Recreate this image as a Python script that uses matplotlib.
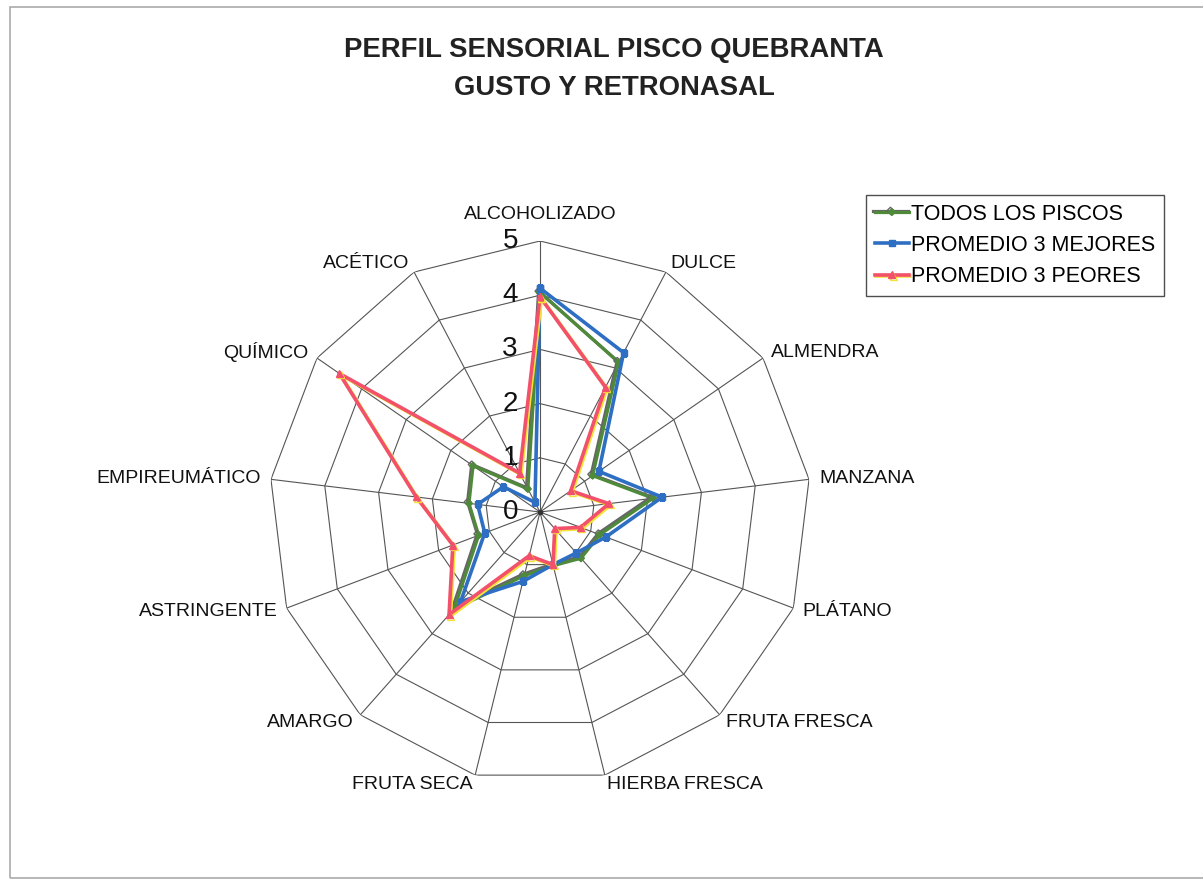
import numpy as np
import matplotlib
matplotlib.use("Agg")
import matplotlib.pyplot as plt
import matplotlib.patheffects as pe
from matplotlib.patches import Rectangle

plt.rcParams['font.family'] = ['Liberation Sans', 'DejaVu Sans']

categories = ["ALCOHOLIZADO", "DULCE", "ALMENDRA", "MANZANA", "PLÁTANO",
              "FRUTA FRESCA", "HIERBA FRESCA", "FRUTA SECA", "AMARGO",
              "ASTRINGENTE", "EMPIREUMÁTICO", "QUÍMICO", "ACÉTICO"]
todos = [4.05, 3.12, 1.18, 2.10, 1.18, 1.14, 1.02, 1.21, 2.39, 1.21, 1.32, 1.50, 0.48]
mejores = [4.13, 3.32, 1.32, 2.27, 1.30, 1.01, 1.00, 1.32, 2.21, 1.09, 1.16, 0.82, 0.20]
peores = [3.97, 2.60, 0.69, 1.28, 0.80, 0.41, 1.00, 0.83, 2.53, 1.72, 2.30, 4.50, 0.81]
levels = [0, 1, 2, 3, 4, 5]
series_names = ["TODOS LOS PISCOS", "PROMEDIO 3 MEJORES", "PROMEDIO 3 PEORES"]

W, H = 1203, 880
fig = plt.figure(figsize=(W / 100, H / 100), dpi=100)

# border frame
fig.patches.append(Rectangle((10 / W, 2 / H), 1.2, 1 - 9 / H, transform=fig.transFigure,
                             fill=False, edgecolor='#aaaaaa', linewidth=1.2))

cx, cy, R = 540, 512, 271
ax = fig.add_axes([(cx - R) / W, (H - cy - R) / H, 2 * R / W, 2 * R / H], projection='polar')
ax.set_theta_zero_location('N')
ax.set_theta_direction(-1)
ax.set_ylim(0, 5)
ax.grid(False)
ax.set_xticks([])
ax.set_yticks([])
ax.spines['polar'].set_visible(False)
ax.patch.set_alpha(0)

n = len(categories)
theta = np.linspace(0, 2 * np.pi, n, endpoint=False)
theta_c = np.append(theta, theta[0])

gcol = '#555555'
for lv in levels[1:]:
    ax.plot(theta_c, [lv] * (n + 1), color=gcol, lw=0.8, zorder=1)
for t in theta:
    ax.plot([t, t], [0, 5], color=gcol, lw=0.8, zorder=1)

# level labels
for lv in levels:
    ax.annotate(str(lv), xy=(0, lv), xytext=(-21.5, 0), textcoords='offset points',
                ha='center', va='center', fontsize=20, color='#111111', zorder=2)

# category labels
for t, lab in zip(theta, categories):
    s, c = np.sin(t), np.cos(t)
    if abs(s) < 0.01:
        ax.annotate(lab, xy=(t, 5), xytext=(0, 13), textcoords='offset points',
                    ha='center', va='bottom', fontsize=14, color='#111111')
    else:
        ha = 'left' if s > 0 else 'right'
        off = 7.2
        ax.annotate(lab, xy=(t, 5), xytext=(off * s, off * c), textcoords='offset points',
                    ha=ha, va='center', fontsize=14, color='#111111')

def close(v):
    return list(v) + [v[0]]

green = '#4f8a3a'
blue = '#2e6fc4'
red = '#f2506b'

l1, = ax.plot(theta_c, close(todos), color=green, lw=2.3, marker='D', ms=3.5,
              markerfacecolor=green, markeredgecolor=green, zorder=5,
              path_effects=[pe.SimpleLineShadow(offset=(-1, 1), shadow_color='#666666', alpha=1),
                            pe.Normal()])
l2, = ax.plot(theta_c, close(mejores), color=blue, lw=2.6, marker='s', ms=5,
              markerfacecolor=blue, markeredgecolor=blue, zorder=6)
l3, = ax.plot(theta_c, close(peores), color=red, lw=2.6, marker='^', ms=5,
              markerfacecolor=red, markeredgecolor=red, zorder=7,
              path_effects=[pe.SimpleLineShadow(offset=(1, -1), shadow_color='#f3e43a', alpha=1),
                            pe.Normal()])

ax.plot([0], [0], 'o', color='#333333', ms=3, zorder=8)

leg = fig.legend([l1, l2, l3], series_names, loc='upper left',
                 bbox_to_anchor=(866 / W, 1 - 195 / H), frameon=True, fancybox=False,
                 edgecolor='#222222', fontsize=15.5, handlelength=1.6, handletextpad=0.1,
                 borderpad=0.4, labelspacing=0.48, borderaxespad=0)
leg.get_frame().set_linewidth(1.0)

fig.text(614 / W, 1 - 50 / H, "PERFIL SENSORIAL PISCO QUEBRANTA", ha='center', va='center',
         fontsize=19.8, fontweight='bold', color='#222222')
fig.text(614 / W, 1 - 88 / H, "GUSTO Y RETRONASAL", ha='center', va='center',
         fontsize=19.8, fontweight='bold', color='#222222')

fig.savefig('out.png', dpi=100)
